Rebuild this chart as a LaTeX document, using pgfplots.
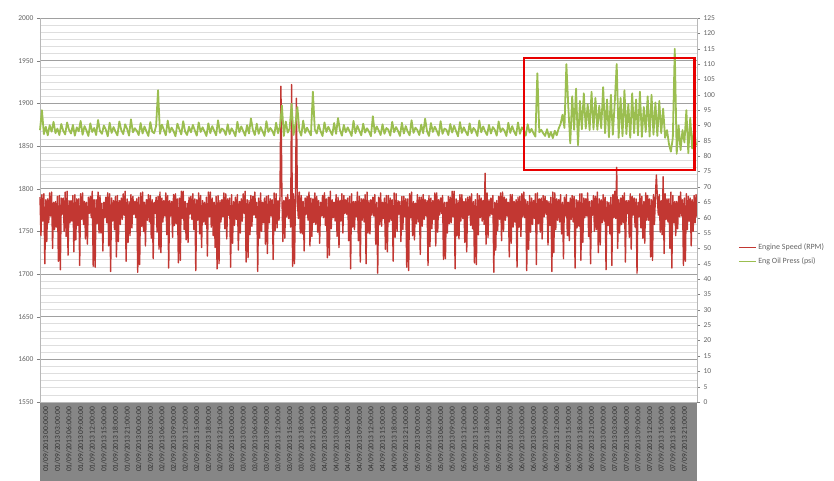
\documentclass[border=0pt]{standalone}
\usepackage{fontspec}
\setmainfont{Carlito}
\usepackage{pgfplots}
\pgfplotsset{compat=1.18}
\definecolor{rpm}{RGB}{194,55,50}
\definecolor{oil}{RGB}{155,190,80}
\definecolor{boxred}{RGB}{232,0,0}
\definecolor{lblbg}{RGB}{134,134,134}
\definecolor{lbltext}{RGB}{50,50,50}
\definecolor{ticktext}{RGB}{100,100,100}
\definecolor{majgrid}{RGB}{160,160,160}
\definecolor{mingrid}{RGB}{222,222,222}
\begin{document}
\begin{tikzpicture}
\fill[lblbg] (0pt,0pt) rectangle (657pt,-79pt);
\begin{axis}[
  scale only axis, width=657pt, height=384pt,
  xmin=0, xmax=339.5, ymin=1550, ymax=2000,
  axis y line*=left, axis x line*=bottom,
  axis line style={draw=mingrid!60!gray},
  ytick={1550,1600,...,2000},
  minor y tick num=5,
  ymajorgrids, yminorgrids,
  major grid style={draw=majgrid, line width=0.8pt},
  minor grid style={draw=mingrid, line width=0.6pt},
  tick align=outside, major tick length=3pt, minor tick length=0pt,
  tick style={draw=gray},
  xtick={3,9,...,333},
  xtick style={draw=none},
  xticklabels={01/09/2013 00:00:00,01/09/2013 03:00:00,01/09/2013 06:00:00,01/09/2013 09:00:00,01/09/2013 12:00:00,01/09/2013 15:00:00,01/09/2013 18:00:00,01/09/2013 21:00:00,02/09/2013 00:00:00,02/09/2013 03:00:00,02/09/2013 06:00:00,02/09/2013 09:00:00,02/09/2013 12:00:00,02/09/2013 15:00:00,02/09/2013 18:00:00,02/09/2013 21:00:00,03/09/2013 00:00:00,03/09/2013 03:00:00,03/09/2013 06:00:00,03/09/2013 09:00:00,03/09/2013 12:00:00,03/09/2013 15:00:00,03/09/2013 18:00:00,03/09/2013 21:00:00,04/09/2013 00:00:00,04/09/2013 03:00:00,04/09/2013 06:00:00,04/09/2013 09:00:00,04/09/2013 12:00:00,04/09/2013 15:00:00,04/09/2013 18:00:00,04/09/2013 21:00:00,05/09/2013 00:00:00,05/09/2013 03:00:00,05/09/2013 06:00:00,05/09/2013 09:00:00,05/09/2013 12:00:00,05/09/2013 15:00:00,05/09/2013 18:00:00,05/09/2013 21:00:00,06/09/2013 00:00:00,06/09/2013 03:00:00,06/09/2013 06:00:00,06/09/2013 09:00:00,06/09/2013 12:00:00,06/09/2013 15:00:00,06/09/2013 18:00:00,06/09/2013 21:00:00,07/09/2013 00:00:00,07/09/2013 03:00:00,07/09/2013 06:00:00,07/09/2013 09:00:00,07/09/2013 12:00:00,07/09/2013 15:00:00,07/09/2013 18:00:00,07/09/2013 21:00:00},
  xticklabel style={rotate=90, anchor=east, font=\fontsize{7.5}{8}\selectfont, text=lbltext, inner sep=2pt},
  yticklabel style={font=\fontsize{7.5}{9}\selectfont, text=ticktext},
  /pgf/number format/assume math mode=true,
  /pgf/number format/1000 sep={},
  clip=false,
]
\addplot[rpm, line width=1.4pt, line join=round] coordinates {
(0,1790)(0.5,1745)(1,1793)(1.5,1762)(2,1794)(2.5,1712)(3,1787)(3.5,1738)(4,1788)(4.5,1760)(5,1795)(5.5,1768)(6,1796)(6.5,1730)(7,1784)(7.5,1752)(8,1785)(8.5,1755)(9,1791)(9.5,1715)
(10,1792)(10.5,1705)(11,1789)(11.5,1770)(12,1789)(12.5,1750)(13,1796)(13.5,1744)(14,1797)(14.5,1722)(15,1786)(15.5,1760)(16,1786)(16.5,1762)(17,1792)(17.5,1726)(18,1793)(18.5,1740)(19,1788)(19.5,1757)
(20,1788)(20.5,1710)(21,1794)(21.5,1764)(22,1795)(22.5,1758)(23,1785)(23.5,1741)(24,1784)(24.5,1735)(25,1790)(25.5,1771)(26,1791)(26.5,1766)(27,1797)(27.5,1709)(28,1787)(28.5,1708)(29,1787)(29.5,1759)
(30,1796)(30.5,1748)(31,1792)(31.5,1748)(32,1783)(32.5,1727)(33,1784)(33.5,1766)(34,1790)(34.5,1760)(35,1795)(35.5,1733)(36,1794)(36.5,1703)(37,1789)(37.5,1762)(38,1786)(38.5,1752)(39,1791)(39.5,1720)
(40,1792)(40.5,1738)(41,1786)(41.5,1758)(42,1789)(42.5,1764)(43,1794)(43.5,1769)(44,1797)(44.5,1715)(45,1788)(45.5,1737)(46,1785)(46.5,1745)(47,1793)(47.5,1754)(48,1791)(48.5,1770)(49,1785)(49.5,1766)
(50,1788)(50.5,1702)(51,1790)(51.5,1711)(52,1795)(52.5,1756)(53,1796)(53.5,1750)(54,1784)(54.5,1733)(55,1787)(55.5,1763)(56,1793)(56.5,1761)(57,1792)(57.5,1742)(58,1787)(58.5,1718)(59,1784)(59.5,1771)
(60,1790)(60.5,1749)(61,1791)(61.5,1729)(62,1796)(62.5,1725)(63,1789)(63.5,1761)(64,1786)(64.5,1768)(65,1795)(65.5,1746)(66,1792)(66.5,1707)(67,1786)(67.5,1768)(68,1785)(68.5,1743)(69,1793)(69.5,1757)
(70,1794)(70.5,1759)(71,1788)(71.5,1713)(72,1789)(72.5,1716)(73,1797)(73.5,1765)(74,1797)(74.5,1752)(75,1785)(75.5,1740)(76,1783)(76.5,1737)(77,1790)(77.5,1770)(78,1791)(78.5,1764)(79,1794)(79.5,1752)
(80,1788)(80.5,1704)(81,1787)(81.5,1763)(82,1795)(82.5,1747)(83,1792)(83.5,1731)(84,1786)(84.5,1761)(85,1784)(85.5,1758)(86,1790)(86.5,1721)(87,1796)(87.5,1767)(88,1796)(88.5,1755)(89,1789)(89.5,1745)
(90,1784)(90.5,1731)(91,1791)(91.5,1706)(92,1792)(92.5,1712)(93,1786)(93.5,1761)(94,1787)(94.5,1767)(95,1795)(95.5,1753)(96,1794)(96.5,1741)(97,1788)(97.5,1769)(98,1789)(98.5,1708)(99,1793)(99.5,1736)
(100,1785)(100.5,1757)(101,1790)(101.5,1764)(102,1793)(102.5,1728)(103,1785)(103.5,1748)(104,1788)(104.5,1762)(105,1794)(105.5,1771)(106,1797)(106.5,1714)(107,1787)(107.5,1719)(108,1786)(108.5,1746)(109,1792)(109.5,1756)
(110,1791)(110.5,1769)(111,1796)(111.5,1766)(112,1784)(112.5,1703)(113,1789)(113.5,1742)(114,1795)(114.5,1750)(115,1784)(115.5,1760)(116,1789)(116.5,1735)(117,1791)(117.5,1724)(118,1792)(118.5,1760)(119,1788)(119.5,1768)
(120,1787)(120.5,1717)(121,1795)(121.5,1751)(122,1794)(122.5,1754)(123,1786)(123.5,1763)(124,1790)(124.5,1920)(125,1793)(125.5,1738)(126,1786)(126.5,1742)(127,1790)(127.5,1767)(128,1793)(128.5,1765)(129,1787)(129.5,1755)
(130,1922)(130.5,1709)(131,1794)(131.5,1712)(132,1788)(132.5,1906)(133,1785)(133.5,1765)(134,1796)(134.5,1748)(135,1792)(135.5,1747)(136,1785)(136.5,1727)(137,1789)(137.5,1770)(138,1791)(138.5,1763)(139,1796)(139.5,1733)
(140,1789)(140.5,1744)(141,1788)(141.5,1760)(142,1795)(142.5,1758)(143,1791)(143.5,1749)(144,1786)(144.5,1736)(145,1784)(145.5,1768)(146,1792)(146.5,1766)(147,1795)(147.5,1757)(148,1788)(148.5,1719)(149,1790)(149.5,1722)
(150,1797)(150.5,1753)(151,1787)(151.5,1766)(152,1784)(152.5,1762)(153,1793)(153.5,1744)(154,1790)(154.5,1731)(155,1786)(155.5,1762)(156,1794)(156.5,1748)(157,1792)(157.5,1771)(158,1787)(158.5,1770)(159,1789)(159.5,1739)
(160,1791)(160.5,1706)(161,1794)(161.5,1755)(162,1785)(162.5,1752)(163,1785)(163.5,1767)(164,1796)(164.5,1739)(165,1791)(165.5,1714)(166,1788)(166.5,1763)(167,1788)(167.5,1761)(168,1793)(168.5,1712)(169,1796)(169.5,1748)
(170,1786)(170.5,1747)(171,1787)(171.5,1769)(172,1790)(172.5,1768)(173,1793)(173.5,1735)(174,1784)(174.5,1701)(175,1790)(175.5,1758)(176,1795)(176.5,1756)(177,1784)(177.5,1765)(178,1789)(178.5,1729)(179,1792)(179.5,1726)
(180,1792)(180.5,1761)(181,1789)(181.5,1763)(182,1787)(182.5,1715)(183,1795)(183.5,1743)(184,1794)(184.5,1750)(185,1786)(185.5,1770)(186,1785)(186.5,1738)(187,1791)(187.5,1752)(188,1791)(188.5,1767)(189,1788)(189.5,1708)
(190,1788)(190.5,1704)(191,1794)(191.5,1766)(192,1796)(192.5,1745)(193,1785)(193.5,1740)(194,1783)(194.5,1759)(195,1793)(195.5,1761)(196,1790)(196.5,1723)(197,1790)(197.5,1756)(198,1793)(198.5,1764)(199,1787)(199.5,1768)
(200,1786)(200.5,1710)(201,1792)(201.5,1732)(202,1789)(202.5,1753)(203,1786)(203.5,1764)(204,1795)(204.5,1733)(205,1795)(205.5,1749)(206,1787)(206.5,1769)(207,1789)(207.5,1771)(208,1792)(208.5,1717)(209,1784)(209.5,1718)
(210,1784)(210.5,1748)(211,1791)(211.5,1759)(212,1790)(212.5,1760)(213,1797)(213.5,1767)(214,1797)(214.5,1706)(215,1788)(215.5,1745)(216,1786)(216.5,1741)(217,1793)(217.5,1762)(218,1793)(218.5,1765)(219,1785)(219.5,1737)
(220,1788)(220.5,1726)(221,1790)(221.5,1769)(222,1791)(222.5,1757)(223,1794)(223.5,1753)(224,1785)(224.5,1713)(225,1787)(225.5,1711)(226,1794)(226.5,1746)(227,1792)(227.5,1766)(228,1789)(228.5,1762)(229,1786)(229.5,1758)
(230,1818)(230.5,1735)(231,1795)(231.5,1743)(232,1787)(232.5,1768)(233,1789)(233.5,1770)(234,1792)(234.5,1702)(235,1784)(235.5,1728)(236,1786)(236.5,1751)(237,1791)(237.5,1764)(238,1795)(238.5,1739)(239,1796)(239.5,1750)
(240,1790)(240.5,1763)(241,1788)(241.5,1768)(242,1784)(242.5,1720)(243,1793)(243.5,1736)(244,1793)(244.5,1755)(245,1785)(245.5,1761)(246,1787)(246.5,1708)(247,1790)(247.5,1755)(248,1791)(248.5,1744)(249,1794)(249.5,1767)
(250,1796)(250.5,1766)(251,1787)(251.5,1704)(252,1785)(252.5,1729)(253,1792)(253.5,1749)(254,1789)(254.5,1758)(255,1786)(255.5,1765)(256,1794)(256.5,1711)(257,1795)(257.5,1759)(258,1788)(258.5,1749)(259,1789)(259.5,1741)
(260,1792)(260.5,1767)(261,1791)(261.5,1770)(262,1786)(262.5,1734)(263,1785)(263.5,1757)(264,1790)(264.5,1703)(265,1796)(265.5,1725)(266,1795)(266.5,1752)(267,1788)(267.5,1763)(268,1787)(268.5,1761)(269,1793)(269.5,1747)
(270,1784)(270.5,1718)(271,1790)(271.5,1768)(272,1793)(272.5,1745)(273,1784)(273.5,1739)(274,1789)(274.5,1764)(275,1792)(275.5,1761)(276,1791)(276.5,1707)(277,1787)(277.5,1754)(278,1786)(278.5,1756)(279,1794)(279.5,1716)
(280,1794)(280.5,1737)(281,1789)(281.5,1766)(282,1788)(282.5,1768)(283,1795)(283.5,1744)(284,1785)(284.5,1712)(285,1786)(285.5,1769)(286,1792)(286.5,1750)(287,1791)(287.5,1752)(288,1796)(288.5,1725)(289,1788)(289.5,1734)
(290,1787)(290.5,1760)(291,1793)(291.5,1762)(292,1790)(292.5,1705)(293,1785)(293.5,1757)(294,1784)(294.5,1747)(295,1790)(295.5,1710)(296,1793)(296.5,1766)(297,1797)(297.5,1765)(298,1825)(298.5,1730)(299,1787)(299.5,1748)
(300,1789)(300.5,1758)(301,1792)(301.5,1760)(302,1795)(302.5,1714)(303,1786)(303.5,1771)(304,1786)(304.5,1743)(305,1794)(305.5,1729)(306,1791)(306.5,1769)(307,1789)(307.5,1755)(308,1788)(308.5,1701)(309,1784)(309.5,1767)
(310,1794)(310.5,1754)(311,1791)(311.5,1742)(312,1785)(312.5,1736)(313,1795)(313.5,1763)(314,1792)(314.5,1763)(315,1788)(315.5,1720)(316,1787)(316.5,1716)(317,1793)(317.5,1758)(318,1790)(318.5,1816)(319,1790)(319.5,1769)
(320,1793)(320.5,1749)(321,1786)(321.5,1746)(322,1814)(322.5,1724)(323,1794)(323.5,1764)(324,1788)(324.5,1761)(325,1788)(325.5,1730)(326,1796)(326.5,1707)(327,1792)(327.5,1760)(328,1785)(328.5,1745)(329,1785)(329.5,1753)
(330,1791)(330.5,1767)(331,1796)(331.5,1768)(332,1787)(332.5,1710)(333,1789)(333.5,1715)(334,1794)(334.5,1752)(335,1791)(335.5,1762)(336,1789)(336.5,1733)(337,1787)(337.5,1750)(338,1792)(338.5,1760)(339,1793)(339.5,1766)
};
\end{axis}
\begin{axis}[
  scale only axis, width=657pt, height=384pt,
  xmin=0, xmax=339.5, ymin=0, ymax=125,
  axis y line*=right, axis x line=none,
  axis line style={draw=mingrid!60!gray},
  ytick={0,5,...,125},
  tick align=outside, major tick length=3pt,
  tick style={draw=gray},
  yticklabel style={font=\fontsize{7.5}{9}\selectfont, text=ticktext},
  /pgf/number format/assume math mode=true,
  legend style={at={(1.058,0.385)}, anchor=west, draw=none, fill=none,
    font=\fontsize{8}{9}\selectfont, text=ticktext, row sep=3pt,
    legend cell align=left},
  legend image post style={line width=0.9pt, mark=none},
  clip=false,
]
\addlegendimage{draw=rpm, no markers}
\addlegendentry{Engine Speed (RPM)}
\addplot[draw=oil, no markers, line width=1.8pt, line join=round] coordinates {
(0,88.5)(1,95)(2,87.2)(3,89.6)(4,86.8)(5,90.1)(6,88.0)(7,91.2)(8,87.5)(9,89.0)(10,86.9)(11,90.5)(12,88.3)(13,87.1)(14,91.0)(15,88.6)(16,87.4)(17,90.2)(18,86.7)(19,89.4)
(20,88.1)(21,91.5)(22,87.0)(23,89.8)(24,88.4)(25,86.6)(26,90.7)(27,87.9)(28,89.2)(29,86.9)(30,91.8)(31,88.2)(32,87.3)(33,90.0)(34,88.7)(35,86.5)(36,90.9)(37,87.6)(38,89.5)(39,88.0)
(40,86.8)(41,91.3)(42,88.5)(43,87.2)(44,90.4)(45,88.9)(46,86.7)(47,92.0)(48,87.8)(49,89.1)(50,88.3)(51,86.9)(52,90.8)(53,87.4)(54,89.7)(55,88.1)(56,86.6)(57,91.1)(58,88.0)(59,87.5)
(60,89.9)(61,101.5)(62,87.3)(63,90.3)(64,88.6)(65,86.8)(66,91.6)(67,87.7)(68,89.3)(69,88.2)(70,86.5)(71,90.6)(72,88.8)(73,87.1)(74,91.4)(75,88.0)(76,86.9)(77,89.6)(78,87.8)(79,90.2)
(80,88.4)(81,86.7)(82,91.0)(83,87.9)(84,89.4)(85,88.1)(86,86.6)(87,90.7)(88,87.5)(89,89.8)(90,88.3)(91,86.8)(92,91.7)(93,87.6)(94,89.0)(95,88.5)(96,86.9)(97,90.4)(98,87.2)(99,89.1)
(100,88.0)(101,86.5)(102,91.2)(103,87.8)(104,89.7)(105,88.2)(106,86.7)(107,90.1)(108,87.4)(109,92.3)(110,88.6)(111,86.9)(112,90.6)(113,87.3)(114,89.5)(115,88.1)(116,86.6)(117,91.4)(118,87.9)(119,89.2)
(120,88.3)(121,86.8)(122,90.9)(123,87.5)(124,89.8)(125,96.5)(126,86.6)(127,91.3)(128,87.7)(129,89.0)(130,97.0)(131,86.9)(132,90.5)(133,96.0)(134,88.4)(135,86.7)(136,91.6)(137,87.6)(138,89.3)(139,88.0)
(140,86.8)(141,101.0)(142,88.7)(143,87.4)(144,90.3)(145,88.1)(146,86.6)(147,91.0)(148,87.9)(149,89.6)(150,88.2)(151,86.9)(152,90.8)(153,87.3)(154,92.4)(155,88.5)(156,86.7)(157,90.2)(158,87.8)(159,89.4)
(160,88.1)(161,86.6)(162,91.5)(163,87.5)(164,89.9)(165,88.3)(166,86.8)(167,90.6)(168,87.7)(169,89.1)(170,88.0)(171,86.5)(172,93.0)(173,87.6)(174,89.7)(175,88.4)(176,86.9)(177,90.4)(178,87.3)(179,89.2)
(180,88.6)(181,86.7)(182,91.2)(183,87.8)(184,89.5)(185,88.2)(186,86.6)(187,90.9)(188,87.4)(189,89.8)(190,88.0)(191,86.8)(192,91.7)(193,87.6)(194,89.3)(195,88.5)(196,86.9)(197,90.3)(198,87.5)(199,92.2)
(200,88.1)(201,86.6)(202,90.8)(203,87.9)(204,89.6)(205,88.3)(206,86.7)(207,91.4)(208,87.3)(209,89.0)(210,88.6)(211,86.9)(212,90.5)(213,87.7)(214,89.9)(215,88.2)(216,86.5)(217,91.1)(218,87.6)(219,89.4)
(220,88.0)(221,86.8)(222,90.7)(223,87.5)(224,89.2)(225,88.4)(226,86.6)(227,91.6)(228,87.8)(229,89.7)(230,88.1)(231,86.9)(232,90.2)(233,87.4)(234,89.5)(235,88.6)(236,86.7)(237,91.3)(238,87.9)(239,89.1)
(240,88.3)(241,86.6)(242,90.9)(243,87.6)(244,89.8)(245,88.0)(246,86.8)(247,91.0)(248,87.3)(249,89.4)(250,88.5)(251,86.7)(252,90.4)(253,87.7)(254,88.9)(255,87.5)(256,86.4)(257,107.0)(258,87.8)(259,88.6)
(260,87.5)(261,86.6)(262,88.8)(263,86.2)(264,87.9)(265,85.9)(266,88.3)(267,86.8)(268,89.0)(269,90.5)(270,93.5)(271,89.2)(272,110.0)(273,96.0)(274,84.2)(275,99.5)(276,88.6)(277,102.0)(278,83.6)(279,98.0)
(280,88.8)(281,100.5)(282,89.0)(283,97.0)(284,88.5)(285,101.0)(286,88.7)(287,99.0)(288,88.6)(289,96.5)(290,89.1)(291,102.5)(292,87.5)(293,98.5)(294,86.2)(295,100.0)(296,87.0)(297,97.5)(298,110.0)(299,86.0)
(300,99.0)(301,86.5)(302,101.5)(303,87.2)(304,97.0)(305,86.0)(306,100.5)(307,87.5)(308,98.5)(309,86.8)(310,101.0)(311,86.3)(312,96.0)(313,87.9)(314,99.5)(315,86.4)(316,100.0)(317,87.0)(318,97.5)(319,86.6)
(320,98.0)(321,87.5)(322,95.5)(323,86.0)(324,88.5)(325,84.0)(326,81.5)(327,86.0)(328,115.0)(329,80.8)(330,90.0)(331,82.0)(332,88.5)(333,84.5)(334,95.0)(335,81.0)(336,92.5)(337,82.5)(338,89.0)(339,83.5)
};
\addlegendentry{Eng Oil Press (psi)}
\draw[boxred, line width=2.4pt] (axis cs:250,112) rectangle (axis cs:338.3,75.5);
\end{axis}
\pgfresetboundingbox
\path[use as bounding box] (-40pt,-79pt) rectangle (794pt,402pt);
\end{tikzpicture}
\end{document}
